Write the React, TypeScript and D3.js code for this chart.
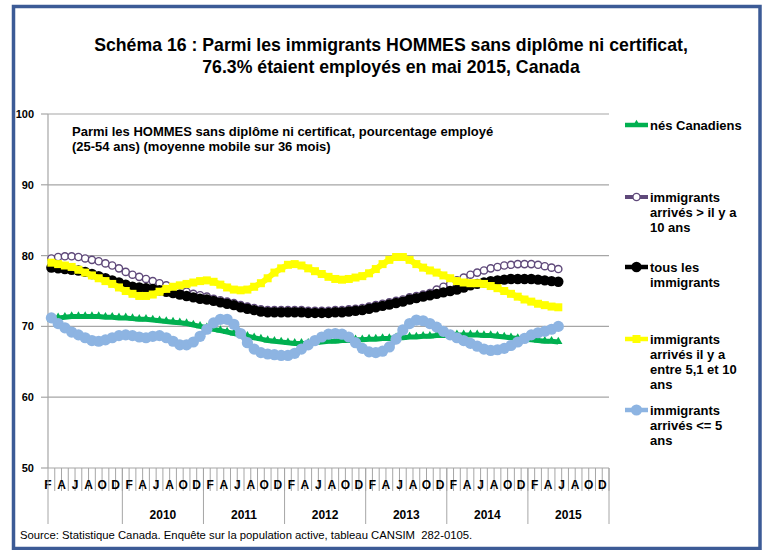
import React from 'react';
import * as d3 from 'd3';

const MONTH_LETTERS = ['J', 'F', 'M', 'A', 'M', 'J', 'J', 'A', 'S', 'O', 'N', 'D'];
const YEARS = [2009, 2010, 2011, 2012, 2013, 2014, 2015];
const YEAR_LABELS = ['', '2010', '2011', '2012', '2013', '2014', '2015'];
const Y_TICKS = [50, 60, 70, 80, 90, 100];

// categories: Feb 2009 .. Dec 2015
const CATEGORIES = YEARS.flatMap((y) => MONTH_LETTERS.map((m, mi) => ({ key: `${y}-${mi + 1}`, year: y, month: mi, letter: m }))).slice(1);

// data: Feb 2009 .. May 2015
const nesCanadiens = [
  70.9, 71.2, 71.3, 71.4, 71.4, 71.4, 71.4, 71.4, 71.3, 71.3,
  71.2, 71.2, 71.1, 71.0, 71.0, 70.9, 70.8, 70.7, 70.6, 70.5,
  70.4, 70.2, 70.0, 69.8, 69.6, 69.4, 69.2, 69.0, 68.8, 68.6,
  68.4, 68.2, 68.0, 67.9, 67.8, 67.7, 67.6, 67.6, 67.6, 67.7,
  67.8, 67.9, 67.9, 68.0, 68.0, 68.1, 68.1, 68.2, 68.2, 68.3,
  68.3, 68.4, 68.4, 68.5, 68.5, 68.6, 68.6, 68.7, 68.7, 68.8,
  68.8, 68.8, 68.8, 68.8, 68.7, 68.7, 68.6, 68.5, 68.4, 68.3,
  68.2, 68.1, 68.0, 67.9, 67.9, 67.8,
];
const arrivesPlus10 = [
  79.6, 79.8, 79.9, 79.9, 79.8, 79.6, 79.4, 79.2, 78.9, 78.6,
  78.2, 77.7, 77.3, 77.0, 76.7, 76.4, 76.1, 75.8, 75.5, 75.2,
  74.9, 74.6, 74.4, 74.2, 73.9, 73.7, 73.5, 73.3, 73.0, 72.8,
  72.6, 72.4, 72.3, 72.3, 72.3, 72.3, 72.3, 72.3, 72.2, 72.2,
  72.2, 72.2, 72.3, 72.3, 72.4, 72.5, 72.6, 72.8, 73.0, 73.2,
  73.4, 73.6, 73.8, 74.1, 74.3, 74.5, 74.7, 75.2, 75.6, 76.0,
  76.5, 76.9, 77.3, 77.6, 77.9, 78.2, 78.4, 78.6, 78.7, 78.8,
  78.8, 78.8, 78.7, 78.5, 78.3, 78.1,
];
const tousImmigrants = [
  78.3, 78.2, 78.1, 78.0, 77.9, 77.7, 77.4, 77.1, 76.8, 76.5,
  76.2, 75.9, 75.6, 75.5, 75.4, 75.3, 75.1, 74.9, 74.7, 74.5,
  74.3, 74.1, 73.9, 73.8, 73.6, 73.4, 73.2, 73.0, 72.7, 72.5,
  72.3, 72.1, 72.0, 72.0, 72.0, 72.0, 72.0, 72.0, 71.9, 71.9,
  71.9, 71.9, 72.0, 72.0, 72.1, 72.2, 72.3, 72.5, 72.7, 72.9,
  73.1, 73.3, 73.5, 73.8, 74.0, 74.2, 74.4, 74.6, 74.8, 75.0,
  75.2, 75.5, 75.8, 76.0, 76.2, 76.4, 76.5, 76.6, 76.7, 76.7,
  76.7, 76.7, 76.6, 76.5, 76.4, 76.3,
];
const arrives5a10 = [
  79.0, 78.8, 78.6, 78.4, 78.0, 77.6, 77.2, 76.8, 76.4, 76.0,
  75.5, 75.0, 74.6, 74.3, 74.3, 74.5, 74.9, 75.3, 75.6, 75.8,
  76.0, 76.2, 76.4, 76.5, 76.3, 75.9, 75.5, 75.2, 75.1, 75.2,
  75.6, 76.1, 76.8, 77.6, 78.2, 78.7, 78.8, 78.6, 78.2, 77.8,
  77.4, 77.0, 76.7, 76.6, 76.7, 76.9, 77.1, 77.5, 78.1, 78.8,
  79.4, 79.8, 79.8, 79.4, 78.8, 78.3, 77.9, 77.6, 77.2, 76.8,
  76.4, 76.2, 76.1, 76.1, 76.0, 75.7, 75.4, 75.0, 74.6, 74.2,
  73.8, 73.5, 73.2, 73.0, 72.8, 72.7,
];
const arrivesMoins5 = [
  71.2, 70.4, 69.8, 69.2, 68.8, 68.4, 68.0, 67.9, 68.1, 68.4,
  68.7, 68.8, 68.7, 68.5, 68.4, 68.6, 68.7, 68.4, 67.9, 67.4,
  67.4, 67.8, 68.6, 69.6, 70.5, 71.0, 71.0, 70.3, 69.0, 67.7,
  66.8, 66.3, 66.1, 66.0, 65.9, 65.9, 66.2, 66.8, 67.4, 68.0,
  68.5, 68.9, 69.0, 68.9, 68.5, 67.7, 66.9, 66.4, 66.3, 66.5,
  67.1, 68.2, 69.5, 70.4, 70.9, 70.8, 70.4, 69.9, 69.3, 68.8,
  68.4, 68.0, 67.6, 67.2, 66.8, 66.6, 66.7, 66.9, 67.3, 67.8,
  68.3, 68.8, 69.1, 69.3, 69.6, 70.0,
];

type Marker = 'triangle' | 'circleOpen' | 'circle' | 'square';
const SERIES = [
  { name: ['nés Canadiens'], values: nesCanadiens, color: '#00B050', width: 5, marker: 'triangle' as Marker, legendY: 125 },
  { name: ['immigrants', 'arrivés > il y a', '10 ans'], values: arrivesPlus10, color: '#5F497A', width: 4, marker: 'circleOpen' as Marker, legendY: 197 },
  { name: ['tous les', 'immigrants'], values: tousImmigrants, color: '#000000', width: 6, marker: 'circle' as Marker, legendY: 267 },
  { name: ['immigrants', 'arrivés il y a', 'entre 5,1 et 10', 'ans'], values: arrives5a10, color: '#FFFF00', width: 6, marker: 'square' as Marker, legendY: 339 },
  { name: ['immigrants', 'arrivés <= 5', 'ans'], values: arrivesMoins5, color: '#8DB4E2', width: 6, marker: 'circle' as Marker, legendY: 410 },
];

const FONT = '"Liberation Sans", Arial, sans-serif';
const LEFT = 48, RIGHT = 609, TOP = 114, BOTTOM = 468;

function MarkerShape({ type, x, y, color }: { type: Marker; x: number; y: number; color: string }) {
  if (type === 'triangle') {
    const p = d3.symbol(d3.symbolTriangle, 30)();
    return <path d={p || ''} transform={`translate(${x},${y - 0.5})`} fill={color} />;
  }
  if (type === 'square') {
    return <rect x={x - 4} y={y - 4} width={8} height={8} fill={color} />;
  }
  if (type === 'circleOpen') {
    return <circle cx={x} cy={y} r={3.6} fill="#ffffff" stroke={color} strokeWidth={1.4} />;
  }
  const r = color === '#8DB4E2' ? 5.6 : 5.2;
  return <circle cx={x} cy={y} r={r} fill={color} />;
}

export default function App() {
  const x = d3.scaleBand<string>().domain(CATEGORIES.map((c) => c.key)).range([LEFT, RIGHT]).paddingInner(0).paddingOuter(0);
  const bw = x.bandwidth();
  const y = d3.scaleLinear().domain([50, 100]).range([BOTTOM, TOP]);
  const cx = (i: number) => (x(CATEGORIES[i].key) as number) + bw / 2;
  const line = d3.line<number>().x((_, i) => cx(i)).y((v) => y(v));

  const yearStarts = CATEGORIES.map((c, i) => ({ c, i })).filter(({ c, i }) => i === 0 || c.month === 0);

  return (
    <svg width={763} height={550} style={{ position: 'absolute', left: 0, top: 0, background: '#fff' }} fontFamily={FONT}>
      <rect x={0} y={0} width={763} height={550} fill="#fff" />
      <rect x={13.5} y={6.5} width={746.5} height={542} fill="none" stroke="#3C5B96" strokeWidth={3.5} />
      <text x={391} y={51} textAnchor="middle" fontSize={17.7} fontWeight="bold">Schéma 16 : Parmi les immigrants HOMMES sans diplôme ni certificat,</text>
      <text x={391} y={73} textAnchor="middle" fontSize={17.7} fontWeight="bold">76.3% étaient employés en mai 2015, Canada</text>

      {/* grid */}
      {Y_TICKS.map((t) => (
        <g key={t}>
          {t > 50 && <line x1={LEFT} x2={RIGHT} y1={y(t)} y2={y(t)} stroke="#A6A6A6" strokeWidth={1.2} />}
          <line x1={LEFT - 7} x2={LEFT} y1={y(t)} y2={y(t)} stroke="#A6A6A6" strokeWidth={1.2} />
          <text x={34} y={y(t) + 4} textAnchor="end" fontSize={11} fontWeight="bold">{t}</text>
        </g>
      ))}
      <line x1={LEFT} x2={LEFT} y1={TOP} y2={BOTTOM} stroke="#A6A6A6" strokeWidth={1.2} />
      <line x1={LEFT} x2={RIGHT} y1={BOTTOM} y2={BOTTOM} stroke="#A6A6A6" strokeWidth={1.2} />

      {/* x axis month ticks */}
      {CATEGORIES.map((c) => (
        <line key={'t' + c.key} x1={(x(c.key) as number) + bw} x2={(x(c.key) as number) + bw} y1={BOTTOM} y2={491} stroke="#A6A6A6" strokeWidth={1} />
      ))}
      {CATEGORIES.map((c, i) => (i % 2 === 0 ? (
        <text key={'m' + c.key} x={x(c.key) as number} y={489} textAnchor="middle" fontSize={12} fontWeight="bold">{c.letter}</text>
      ) : null))}
      {yearStarts.map(({ c }) => (
        <line key={'y' + c.key} x1={x(c.key) as number} x2={x(c.key) as number} y1={BOTTOM} y2={524} stroke="#A6A6A6" strokeWidth={1} />
      ))}
      <line x1={RIGHT} x2={RIGHT} y1={BOTTOM} y2={524} stroke="#A6A6A6" strokeWidth={1} />
      {YEARS.map((yr, yi) => {
        const cats = CATEGORIES.filter((c) => c.year === yr);
        const x0 = x(cats[0].key) as number;
        const x1 = (x(cats[cats.length - 1].key) as number) + bw;
        return <text key={'yl' + yr} x={(x0 + x1) / 2} y={519} textAnchor="middle" fontSize={12} fontWeight="bold">{YEAR_LABELS[yi]}</text>;
      })}

      {/* subtitle */}
      <text x={72} y={136} fontSize={13} fontWeight="bold">Parmi les HOMMES sans diplôme ni certificat, pourcentage employé</text>
      <text x={72} y={151} fontSize={13} fontWeight="bold">(25-54 ans) (moyenne mobile sur 36 mois)</text>

      {/* series */}
      {SERIES.map((s) => (
        <g key={s.name.join(' ')}>
          <path d={line(s.values) || ''} fill="none" stroke={s.color} strokeWidth={s.width} strokeLinejoin="round" />
          {s.values.map((v, i) => <MarkerShape key={i} type={s.marker} x={cx(i)} y={y(v)} color={s.color} />)}
        </g>
      ))}

      {/* legend */}
      {SERIES.map((s) => (
        <g key={'lg' + s.name.join(' ')}>
          <line x1={625} x2={648} y1={s.legendY} y2={s.legendY} stroke={s.color} strokeWidth={Math.min(s.width, 4.5)} />
          <MarkerShape type={s.marker} x={636.5} y={s.legendY} color={s.color} />
          {s.name.map((ln, k) => (
            <text key={k} x={650} y={s.legendY + 4.5 + k * 15} fontSize={13} fontWeight="bold">{ln}</text>
          ))}
        </g>
      ))}

      <text x={20} y={539} fontSize={11.3} style={{ whiteSpace: 'pre' }}>{'Source: Statistique Canada. Enquête sur la population active, tableau CANSIM  282-0105.'}</text>
    </svg>
  );
}
